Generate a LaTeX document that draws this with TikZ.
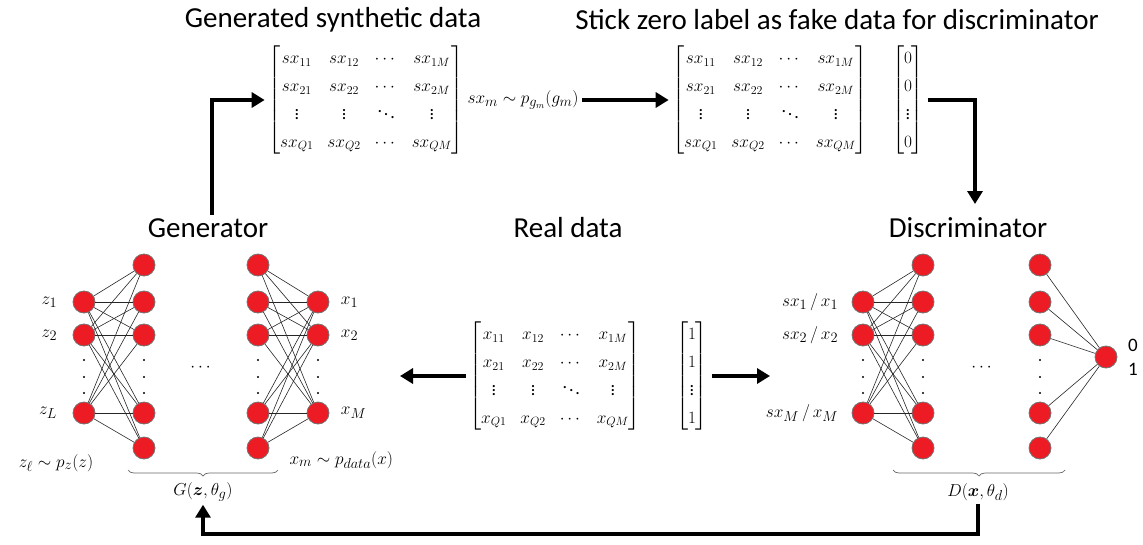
\documentclass[tikz,border=0pt]{standalone}
\usepackage{amsmath}
\usepackage{amssymb}
\usepackage{fontspec}
\setmainfont{Carlito}
\usetikzlibrary{positioning,arrows.meta,decorations.pathreplacing}
\definecolor{neuronred}{RGB}{237,28,36}
\renewcommand{\arraystretch}{1.32}
\setlength{\arraycolsep}{7pt}

\begin{document}
\begin{tikzpicture}[x=1pt,y=-1pt,
    neuron/.style={circle, fill=neuronred, draw=black!55, line width=0.8pt, minimum size=22pt, inner sep=0pt},
    wire/.style={black!85, line width=0.6pt},
    flow/.style={line width=4pt, -{Triangle[length=13pt,width=15pt]}},
    title/.style={font=\fontsize{29}{33}\selectfont},
    sym/.style={font=\fontsize{18}{21}\selectfont},
    lab/.style={font=\fontsize{19}{22}\selectfont},
    brace/.style={decorate, decoration={brace, mirror, amplitude=6pt}, black!60, line width=0.7pt}]
        \useasboundingbox (0,0) rectangle (1143,544);

        % titles
        \node[title] (gentitle) at (333,20) {Generated synthetic data};
        \node[title] (faketitle) at (837,20) {Stick zero label as fake data for discriminator};
        \node[title] (genlabel) at (208,228) {Generator};
        \node[title] (reallabel) at (568,228) {Real data};
        \node[title] (dislabel) at (968,228) {Discriminator};

        % generator network
        \foreach \i/\y in {1/302, 2/335, 3/413} {
            \node[neuron] (gin\i) at (84,\y) {};
            \node[neuron] (gout\i) at (318,\y) {};
        }
        \foreach \i/\y in {1/265, 2/302, 3/335, 4/413, 5/448} {
            \node[neuron] (gha\i) at (144,\y) {};
            \node[neuron] (ghb\i) at (258,\y) {};
        }
        \foreach \i in {1,2,3} {
            \foreach \j in {1,...,5} {
                \draw[wire] (gin\i) -- (gha\j);
                \draw[wire] (ghb\j) -- (gout\i);
            }
        }
        \foreach \x in {84, 144, 258, 318} {
            \foreach \y in {360, 377, 393} {
                \fill (\x,\y) circle (1.1);
            }
        }
        \node[sym] (gdots) at (202,368) {$\cdots$};
        \node[lab, left=12pt of gin1] (zone) {$z_{1}$};
        \node[lab, left=12pt of gin2] (ztwo) {$z_{2}$};
        \node[lab, left=12pt of gin3] (zlast) {$z_{L}$};
        \node[lab, right=8pt of gout1] (xone) {$x_{1}$};
        \node[lab, right=8pt of gout2] (xtwo) {$x_{2}$};
        \node[lab, right=8pt of gout3] (xlast) {$x_{M}$};
        \node[lab] (zlaw) at (56,463) {$z_{\ell} \sim p_{z}(z)$};
        \node[lab, anchor=west] (xlaw) at (286,460) {$x_{m} \sim p_{data}(x)$};
        \draw[brace] (128,470) -- (278,470);
        \node[lab] (gtheta) at (203,492) {$G(\boldsymbol{z},\theta_{g})$};

        % discriminator network
        \foreach \i/\y in {1/302, 2/335, 3/413} {
            \node[neuron] (din\i) at (863,\y) {};
        }
        \foreach \i/\y in {1/265, 2/302, 3/335, 4/413, 5/448} {
            \node[neuron] (dha\i) at (923,\y) {};
            \node[neuron] (dhb\i) at (1040,\y) {};
        }
        \node[neuron] (dout) at (1106,357) {};
        \foreach \i in {1,2,3} {
            \foreach \j in {1,...,5} {
                \draw[wire] (din\i) -- (dha\j);
            }
        }
        \foreach \j in {1,...,5} {
            \draw[wire] (dhb\j) -- (dout);
        }
        \foreach \x in {863, 923, 1040} {
            \foreach \y in {360, 377, 393} {
                \fill (\x,\y) circle (1.1);
            }
        }
        \node[sym] (ddots) at (983,368) {$\cdots$};
        \node[lab, left=10pt of din1] (dxone) {$sx_{1}\,/\,x_{1}$};
        \node[lab, left=10pt of din2] (dxtwo) {$sx_{2}\,/\,x_{2}$};
        \node[lab, left=10pt of din3] (dxlast) {$sx_{M}\,/\,x_{M}$};
        \node[font=\fontsize{19}{22}\selectfont] (zerolab) at (1133,345) {0};
        \node[font=\fontsize{19}{22}\selectfont] (onelab) at (1133,369) {1};
        \draw[brace] (893,470) -- (1065,470);
        \node[lab] (dtheta) at (978,492) {$D(\boldsymbol{x},\theta_{d})$};

        % synthetic data
        \node[sym] (synmat) at (366,100) {$\begin{bmatrix}
            sx_{11} & sx_{12} & \cdots & sx_{1M}\\
            sx_{21} & sx_{22} & \cdots & sx_{2M}\\
            \vdots & \vdots & \ddots & \vdots\\
            sx_{Q1} & sx_{Q2} & \cdots & sx_{QM}
        \end{bmatrix}$};
        \node[lab, anchor=west] (synlaw) at (464,100) {$sx_{m} \sim p_{g_{m}}(g_{m})$};
        \node[sym] (fakemat) at (770,100) {$\begin{bmatrix}
            sx_{11} & sx_{12} & \cdots & sx_{1M}\\
            sx_{21} & sx_{22} & \cdots & sx_{2M}\\
            \vdots & \vdots & \ddots & \vdots\\
            sx_{Q1} & sx_{Q2} & \cdots & sx_{QM}
        \end{bmatrix}$};
        \node[sym] (zerovec) at (908,100) {$\begin{bmatrix} 0\\ 0\\ \vdots\\ 0 \end{bmatrix}$};

        % real data
        \node[sym] (realmat) at (555,376) {$\begin{bmatrix}
            x_{11} & x_{12} & \cdots & x_{1M}\\
            x_{21} & x_{22} & \cdots & x_{2M}\\
            \vdots & \vdots & \ddots & \vdots\\
            x_{Q1} & x_{Q2} & \cdots & x_{QM}
        \end{bmatrix}$};
        \node[sym] (onevec) at (692,376) {$\begin{bmatrix} 1\\ 1\\ \vdots\\ 1 \end{bmatrix}$};
        \coordinate (realleft) at (400,376);
        \coordinate (realright) at (770,376);
        \coordinate (disin) at (975,204);

        % flow arrows
        \draw[flow] ([xshift=4pt]genlabel.north) |- (synmat.west);
        \draw[flow] (synlaw.east) -- (fakemat.west);
        \draw[flow] (zerovec.east) -| (disin);
        \draw[flow] (realmat.west) -- (realleft);
        \draw[flow] (onevec.east) -- (realright);
        \draw[flow] (dtheta.south) -- ++(0,30) -| (gtheta.south);
    \end{tikzpicture}
\end{document}
